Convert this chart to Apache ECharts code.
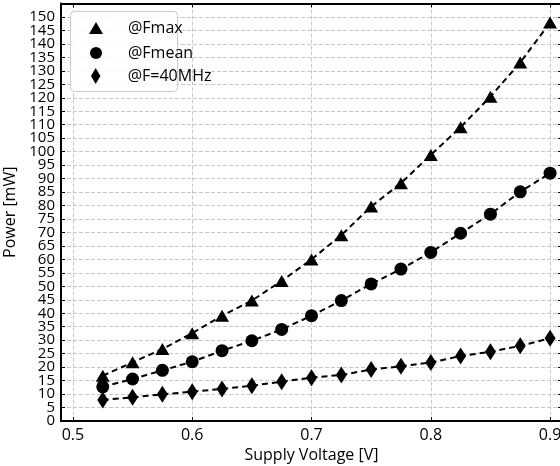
<!DOCTYPE html>
<html>
<head>
<meta charset="utf-8">
<script src="https://cdn.jsdelivr.net/npm/echarts@6/dist/echarts.min.js"></script>
<style>
  html, body { margin: 0; padding: 0; background: #fff; }
  #chart { width: 560px; height: 466px; }
</style>
</head>
<body>
<div id="chart"></div>
<script>
// Supply voltage sweep [V]
const voltages = [0.525, 0.55, 0.575, 0.6, 0.625, 0.65, 0.675, 0.7,
                  0.725, 0.75, 0.775, 0.8, 0.825, 0.85, 0.875, 0.9];
// Power [mW] at the three operating frequencies
const powerFmax  = [16.8, 21.8, 26.7, 32.6, 39.1, 44.7, 52.0, 60.0,
                    69.0, 79.6, 88.3, 98.8, 109.1, 120.4, 133.1, 147.9];
const powerFmean = [12.7, 15.6, 18.8, 22.0, 26.1, 29.8, 34.0, 39.1,
                    44.7, 50.9, 56.4, 62.6, 69.7, 76.8, 85.1, 92.0];
const powerF40   = [7.8, 8.8, 9.9, 10.9, 11.9, 13.1, 14.6, 16.1,
                    17.1, 19.1, 20.3, 21.7, 24.1, 25.7, 27.9, 30.7];
const seriesNames = ['@Fmax', '@Fmean', '@F=40MHz'];

// Tick positions
const xTicks = [0.5, 0.6, 0.7, 0.8, 0.9];
const yTicks = [];
for (let v = 0; v <= 150; v += 5) yTicks.push(v);
// Labels are split over two stacked axes so tightly packed ones are not dropped
const yLabelsTens = yTicks.filter((v) => v % 10 === 0);
const yLabelsFives = yTicks.filter((v) => v % 10 !== 0);

const FONT = 'Open Sans';
const trianglePath = 'path://M7,0 L14,12 L0,12 Z';
const diamondPath = 'path://M5,0 L10,8.5 L5,17 L0,8.5 Z';

const pairs = (ys) => voltages.map((x, i) => [x, ys[i]]);

const gridLine = { show: true, lineStyle: { color: '#c8c8c8', type: [4, 2], width: 1 } };
const spine = { show: true, onZero: false, lineStyle: { color: '#000', width: 2 } };
const innerTick = { show: true, inside: true, length: 4, lineStyle: { color: '#000', width: 1 } };
const yLabelStyle = { fontFamily: FONT, fontSize: 15, color: '#000', margin: 6,
                      interval: 0, showMinLabel: true, showMaxLabel: true };

const chart = echarts.init(document.getElementById('chart'), null, { renderer: 'canvas' });

function lineSeries(name, data, symbol, size) {
  return {
    name, type: 'line', data: pairs(data),
    xAxisIndex: 0, yAxisIndex: 0,
    symbol, symbolSize: size, showAllSymbol: true,
    itemStyle: { color: '#000' },
    lineStyle: { color: '#000', width: 2, type: [6, 4] },
    z: 3,
    animation: false
  };
}

// One legend block per entry so each marker keeps its own proportions
function legendFor(name, icon, w, h, top) {
  return {
    data: [{ name, icon }],
    left: 96 - w / 2, top, padding: 0,
    itemWidth: w, itemHeight: h,
    symbolKeepAspect: true,
    textStyle: { fontFamily: FONT, fontSize: 16, color: '#000',
                 padding: [0, 0, 0, 32 - w / 2 - 5] },
    selectedMode: false,
    z: 5
  };
}

chart.setOption({
  animation: false,
  backgroundColor: '#fff',
  grid: { left: 61, top: 3.5, width: 501, height: 417.5,
          containLabel: false, outerBoundsMode: 'none' },
  xAxis: [
    {
      type: 'value', min: 0.49, max: 0.91, position: 'bottom',
      name: 'Supply Voltage [V]', nameLocation: 'middle', nameGap: 23,
      nameTextStyle: { fontFamily: FONT, fontSize: 16, color: '#000' },
      axisLine: spine,
      axisTick: Object.assign({ customValues: xTicks }, innerTick),
      axisLabel: { customValues: xTicks, showMinLabel: true, showMaxLabel: true,
                   fontFamily: FONT, fontSize: 16, color: '#000', margin: 6,
                   formatter: (v) => v.toFixed(1) },
      splitLine: gridLine
    },
    {
      type: 'value', min: 0.49, max: 0.91, position: 'top',
      axisLine: spine,
      axisTick: Object.assign({ customValues: xTicks }, innerTick),
      axisLabel: { show: false },
      splitLine: { show: false }
    }
  ],
  yAxis: [
    {
      type: 'value', min: 0, max: 155, position: 'left',
      name: 'Power [mW]', nameLocation: 'middle', nameGap: 32, nameRotate: 90,
      nameTextStyle: { fontFamily: FONT, fontSize: 16, color: '#000' },
      axisLine: spine,
      axisTick: Object.assign({ customValues: yTicks }, innerTick),
      axisLabel: Object.assign({ customValues: yLabelsTens }, yLabelStyle),
      splitLine: gridLine
    },
    {
      type: 'value', min: 0, max: 155, position: 'right',
      axisLine: spine,
      axisTick: Object.assign({ customValues: yTicks }, innerTick),
      axisLabel: { show: false },
      splitLine: { show: false }
    },
    {
      type: 'value', min: 0, max: 155, position: 'left',
      axisLine: { show: false },
      axisTick: { show: false },
      axisLabel: Object.assign({ customValues: yLabelsFives }, yLabelStyle),
      splitLine: { show: false }
    }
  ],
  legend: [
    legendFor(seriesNames[0], trianglePath, 14, 12, 20),
    legendFor(seriesNames[1], 'circle', 12, 12, 45),
    legendFor(seriesNames[2], diamondPath, 10, 16, 68)
  ],
  graphic: [{
    type: 'rect', z: 4,
    shape: { x: 70.5, y: 11.5, width: 107, height: 80, r: 4 },
    style: { fill: 'rgba(255,255,255,0.85)', stroke: '#cccccc', lineWidth: 1 }
  }],
  series: [
    lineSeries(seriesNames[0], powerFmax, 'triangle', [14, 12]),
    lineSeries(seriesNames[1], powerFmean, 'circle', 13),
    lineSeries(seriesNames[2], powerF40, 'diamond', [11, 17])
  ]
});
</script>
</body>
</html>
